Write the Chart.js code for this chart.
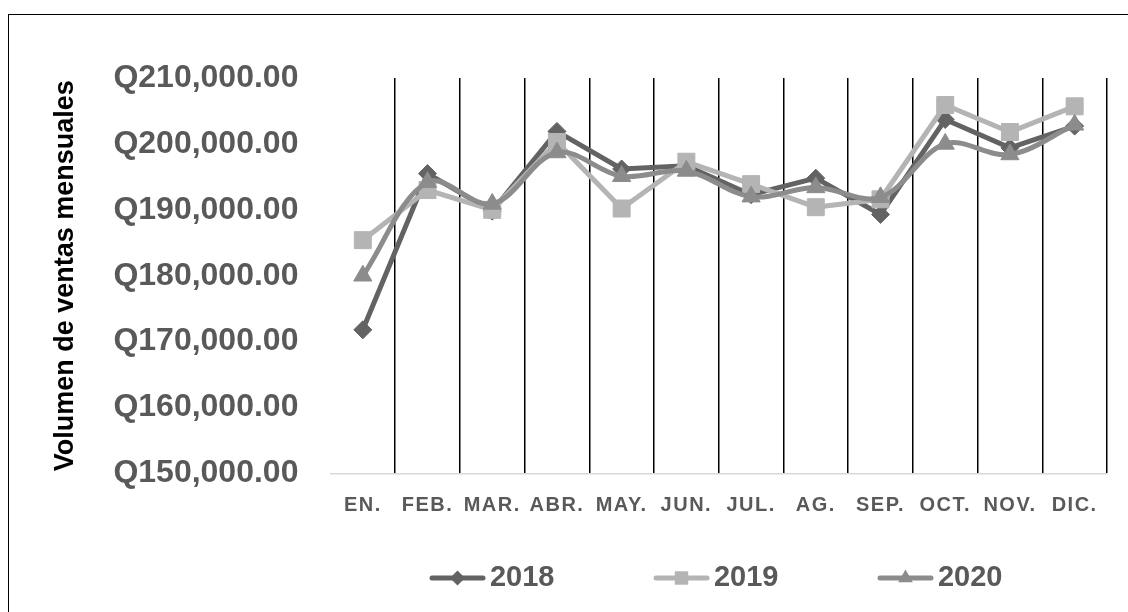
<!DOCTYPE html>
<html>
<head>
<meta charset="utf-8">
<script src="https://cdn.jsdelivr.net/npm/chart.js@4.4.1/dist/chart.umd.min.js"></script>
<style>
  html, body { margin: 0; padding: 0; background: #fff; overflow: hidden; }
  #wrap { position: relative; width: 1128px; height: 612px; }
  #frame { position: absolute; left: 8px; top: 14px; width: 1200px; height: 700px;
           border-left: 1.5px solid #000; border-top: 1.5px solid #000; pointer-events: none; }
  canvas { position: absolute; left: 0; top: 0; }
</style>
</head>
<body>
<div id="wrap">
  <canvas id="chart" width="1128" height="612"></canvas>
  <div id="frame"></div>
</div>
<script>
const months = ['EN.', 'FEB.', 'MAR.', 'ABR.', 'MAY.', 'JUN.', 'JUL.', 'AG.', 'SEP.', 'OCT.', 'NOV.', 'DIC.']
const ventas2018 = [171800, 195500, 189800, 201900, 196200, 196700, 192300, 194800, 189300, 203700, 199400, 202700]
const ventas2019 = [185400, 193000, 190000, 200300, 190200, 197300, 193900, 190400, 191600, 205900, 201800, 205700]
const ventas2020 = [180000, 194200, 190900, 198700, 195100, 195900, 192000, 193400, 191900, 200000, 198400, 202900]
const years = ['2018', '2019', '2020']

const dark = '#636363'
const light = '#b4b4b4'
const mid = '#8c8c8c'
const textGray = '#595959'

Chart.defaults.font.family = '"Liberation Sans", Arial, sans-serif'

// category axis with spaced-out letters, like the original, and no label clipping
class SpacedCategoryScale extends Chart.CategoryScale {
    _computeLabelArea() {
        return undefined
    }
    drawLabels(area) {
        this.ctx.save()
        this.ctx.letterSpacing = '1.5px'
        super.drawLabels(area)
        this.ctx.restore()
    }
}
SpacedCategoryScale.id = 'spacedCategory'
SpacedCategoryScale.defaults = Chart.CategoryScale.defaults
Chart.register(SpacedCategoryScale)

// legend sample: a short line with the marker in the middle
function legendSample(color, style, radius) {
    const c = document.createElement('canvas')
    c.width = 81
    c.height = 24
    const g = c.getContext('2d')
    g.strokeStyle = color
    g.lineWidth = 5
    g.lineCap = 'round'
    g.beginPath()
    g.moveTo(27, 12)
    g.lineTo(78, 12)
    g.stroke()
    g.fillStyle = color
    Chart.helpers.drawPoint(g, { pointStyle: style, radius: radius, borderWidth: 0 }, 52.5, 12)
    return c
}
const samples = [
    legendSample(dark, 'rectRot', 7.5),
    legendSample(light, 'rect', 9.5),
    legendSample(mid, 'triangle', 8.5)
]

const money = v => 'Q' + v.toLocaleString('en-US', { minimumFractionDigits: 2, maximumFractionDigits: 2 })

new Chart(document.getElementById('chart'), {
    type: 'line',
    data: {
        labels: months,
        datasets: [
            {
                label: years[0], data: ventas2018, order: 3,
                borderColor: dark, backgroundColor: dark, borderWidth: 5,
                pointStyle: 'rectRot', pointRadius: 9, pointBorderWidth: 1, tension: 0
            },
            {
                label: years[1], data: ventas2019, order: 2,
                borderColor: light, backgroundColor: light, borderWidth: 5,
                pointStyle: 'rect', pointRadius: 12, pointBorderWidth: 1, tension: 0
            },
            {
                label: years[2], data: ventas2020, order: 1,
                borderColor: mid, backgroundColor: mid, borderWidth: 5,
                pointStyle: 'triangle', pointRadius: 10.5, pointBorderWidth: 1, tension: 0.35
            }
        ]
    },
    options: {
        responsive: false,
        animation: false,
        devicePixelRatio: 1,
        layout: { padding: { left: 12, top: 78, right: 21, bottom: 9.5 } },
        plugins: {
            tooltip: { enabled: false },
            legend: {
                position: 'bottom',
                fullSize: false,
                align: 'start',
                labels: {
                    usePointStyle: true,
                    pointStyleWidth: 60,
                    padding: 85,
                    font: { size: 29, weight: 'bold' },
                    generateLabels: chart => chart.data.datasets.map((ds, i) => ({
                        text: ds.label,
                        pointStyle: samples[i],
                        fillStyle: ds.borderColor,
                        strokeStyle: ds.borderColor,
                        fontColor: textGray,
                        lineWidth: 0,
                        hidden: false,
                        datasetIndex: i
                    }))
                }
            }
        },
        scales: {
            x: {
                type: 'spacedCategory',
                offset: true,
                grid: {
                    offset: true,
                    drawTicks: false,
                    lineWidth: 1.5,
                    color: ctx => ctx.index === 0 ? 'rgba(0,0,0,0)' : '#000'
                },
                border: { color: '#d9d9d9', width: 1.5 },
                ticks: {
                    color: textGray,
                    padding: 20,
                    maxRotation: 0,
                    autoSkip: false,
                    font: { size: 20, weight: 'bold' }
                },
                afterFit: scale => { scale.height = 5 }
            },
            y: {
                min: 150000,
                max: 210000,
                grid: { display: false, drawTicks: false },
                border: { display: false },
                ticks: {
                    stepSize: 10000,
                    padding: 32,
                    color: textGray,
                    font: { size: 32, weight: 'bold' },
                    callback: money
                },
                title: {
                    display: true,
                    text: 'Volumen de ventas mensuales',
                    color: '#000',
                    font: { size: 27, weight: 'bold' },
                    padding: { top: 37, bottom: 0 }
                }
            }
        }
    }
})
</script>
</body>
</html>
